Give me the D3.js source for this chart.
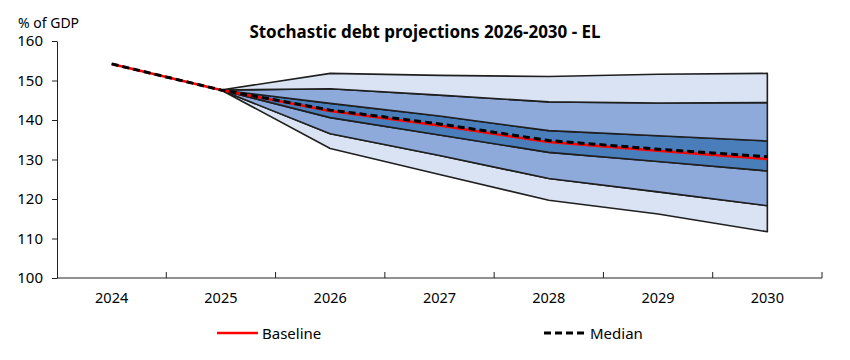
<!DOCTYPE html>
<html>
<head>
<meta charset="utf-8">
<script src="https://cdn.jsdelivr.net/npm/d3@7"></script>
<style>
  body { margin: 0; background: #fff; }
  text { font-family: "Noto Sans", "Open Sans", sans-serif; fill: #000; }
</style>
</head>
<body>
<div class="chart"></div>
<script>
// --- Data ---
const years = ["2024", "2025", "2026", "2027", "2028", "2029", "2030"];
const baseline = [154.2, 147.6, 142.3, 138.6, 134.4, 132.2, 130.1];
const median   = [154.2, 147.6, 142.5, 139.0, 134.8, 132.6, 130.7];

// percentile bands from 2025 onwards
const bandYears = ["2025", "2026", "2027", "2028", "2029", "2030"];
const p10 = [147.6, 132.8, 126.2, 119.7, 116.2, 111.7];
const p20 = [147.6, 136.5, 131.0, 125.2, 121.8, 118.3];
const p40 = [147.6, 140.6, 136.2, 131.8, 129.5, 127.1];
const p60 = [147.6, 144.2, 141.0, 137.3, 136.0, 134.7];
const p80 = [147.6, 147.9, 146.3, 144.6, 144.3, 144.4];
const p90 = [147.6, 151.8, 151.3, 151.0, 151.6, 151.8];

const yTicks = [100, 110, 120, 130, 140, 150, 160];

// --- Setup ---
const width = 850, height = 360;
const margin = { top: 41, right: 28, bottom: 82, left: 57 };

const svg = d3.select(".chart").append("svg")
  .attr("width", width)
  .attr("height", height);

const x = d3.scaleBand().domain(years).range([margin.left, width - margin.right]);
const y = d3.scaleLinear().domain([100, 160]).range([278, 41]);
const cx = d => x(d) + x.bandwidth() / 2;

// --- Bands ---
const bands = [
  { lo: p10, hi: p20, fill: "#dae3f3" },
  { lo: p20, hi: p40, fill: "#8eaadb" },
  { lo: p40, hi: p60, fill: "#4a7ebb" },
  { lo: p60, hi: p80, fill: "#8eaadb" },
  { lo: p80, hi: p90, fill: "#dae3f3" }
];

const area = d3.area()
  .x(d => cx(d.year))
  .y0(d => y(d.lo))
  .y1(d => y(d.hi));

svg.append("g").selectAll("path")
  .data(bands)
  .join("path")
  .attr("d", b => area(bandYears.map((yr, i) => ({ year: yr, lo: b.lo[i], hi: b.hi[i] }))))
  .attr("fill", b => b.fill)
  .attr("stroke", "#1f1f1f")
  .attr("stroke-width", 1.6)
  .attr("stroke-linejoin", "round");

// --- Axes ---
const yAxis = d3.axisLeft(y).tickValues(yTicks).tickSize(5).tickSizeOuter(0);
const gy = svg.append("g")
  .attr("transform", `translate(${margin.left},0)`)
  .call(yAxis);
gy.select(".domain").attr("stroke", "#222");
gy.selectAll(".tick line").attr("stroke", "#222");
gy.selectAll(".tick text")
  .attr("x", -14)
  .style("font-size", "15px")
  .style("font-family", "'Noto Sans', sans-serif");

const gx = svg.append("g").attr("transform", `translate(0,${y(100)})`);
gx.append("line")
  .attr("x1", margin.left).attr("x2", width - margin.right)
  .attr("stroke", "#222");
gx.selectAll(".xtick")
  .data(years)
  .join("line")
  .attr("x1", d => x(d) + x.bandwidth()).attr("x2", d => x(d) + x.bandwidth())
  .attr("y1", 0).attr("y2", -6)
  .attr("stroke", "#222");
gx.selectAll(".xlabel")
  .data(years)
  .join("text")
  .attr("x", d => cx(d))
  .attr("y", 25)
  .attr("text-anchor", "middle")
  .style("font-size", "14.5px")
  .text(d => d);

// --- Lines ---
const line = d3.line()
  .x((d, i) => cx(years[i]))
  .y(d => y(d));

svg.append("path")
  .datum(baseline)
  .attr("d", line)
  .attr("fill", "none")
  .attr("stroke", "#ff0000")
  .attr("stroke-width", 2.5);

svg.append("path")
  .datum(median)
  .attr("d", line)
  .attr("fill", "none")
  .attr("stroke", "#000")
  .attr("stroke-width", 3)
  .attr("stroke-dasharray", "7,4");

// --- Titles ---
svg.append("text")
  .attr("x", 425)
  .attr("y", 38)
  .attr("text-anchor", "middle")
  .style("font-size", "17px")
  .style("font-weight", "bold")
  .text("Stochastic debt projections 2026-2030 - EL");

svg.append("text")
  .attr("x", 18)
  .attr("y", 28)
  .style("font-size", "14px")
  .text("% of GDP");

// --- Legend ---
const legend = svg.append("g");
legend.append("line")
  .attr("x1", 217).attr("x2", 258)
  .attr("y1", 333).attr("y2", 333)
  .attr("stroke", "#ff0000").attr("stroke-width", 2.5);
legend.append("text")
  .attr("x", 262).attr("y", 339)
  .style("font-size", "15px")
  .text("Baseline");
legend.append("line")
  .attr("x1", 544).attr("x2", 588)
  .attr("y1", 333).attr("y2", 333)
  .attr("stroke", "#000").attr("stroke-width", 3)
  .attr("stroke-dasharray", "7,4");
legend.append("text")
  .attr("x", 590).attr("y", 339)
  .style("font-size", "15px")
  .text("Median");
</script>
</body>
</html>
